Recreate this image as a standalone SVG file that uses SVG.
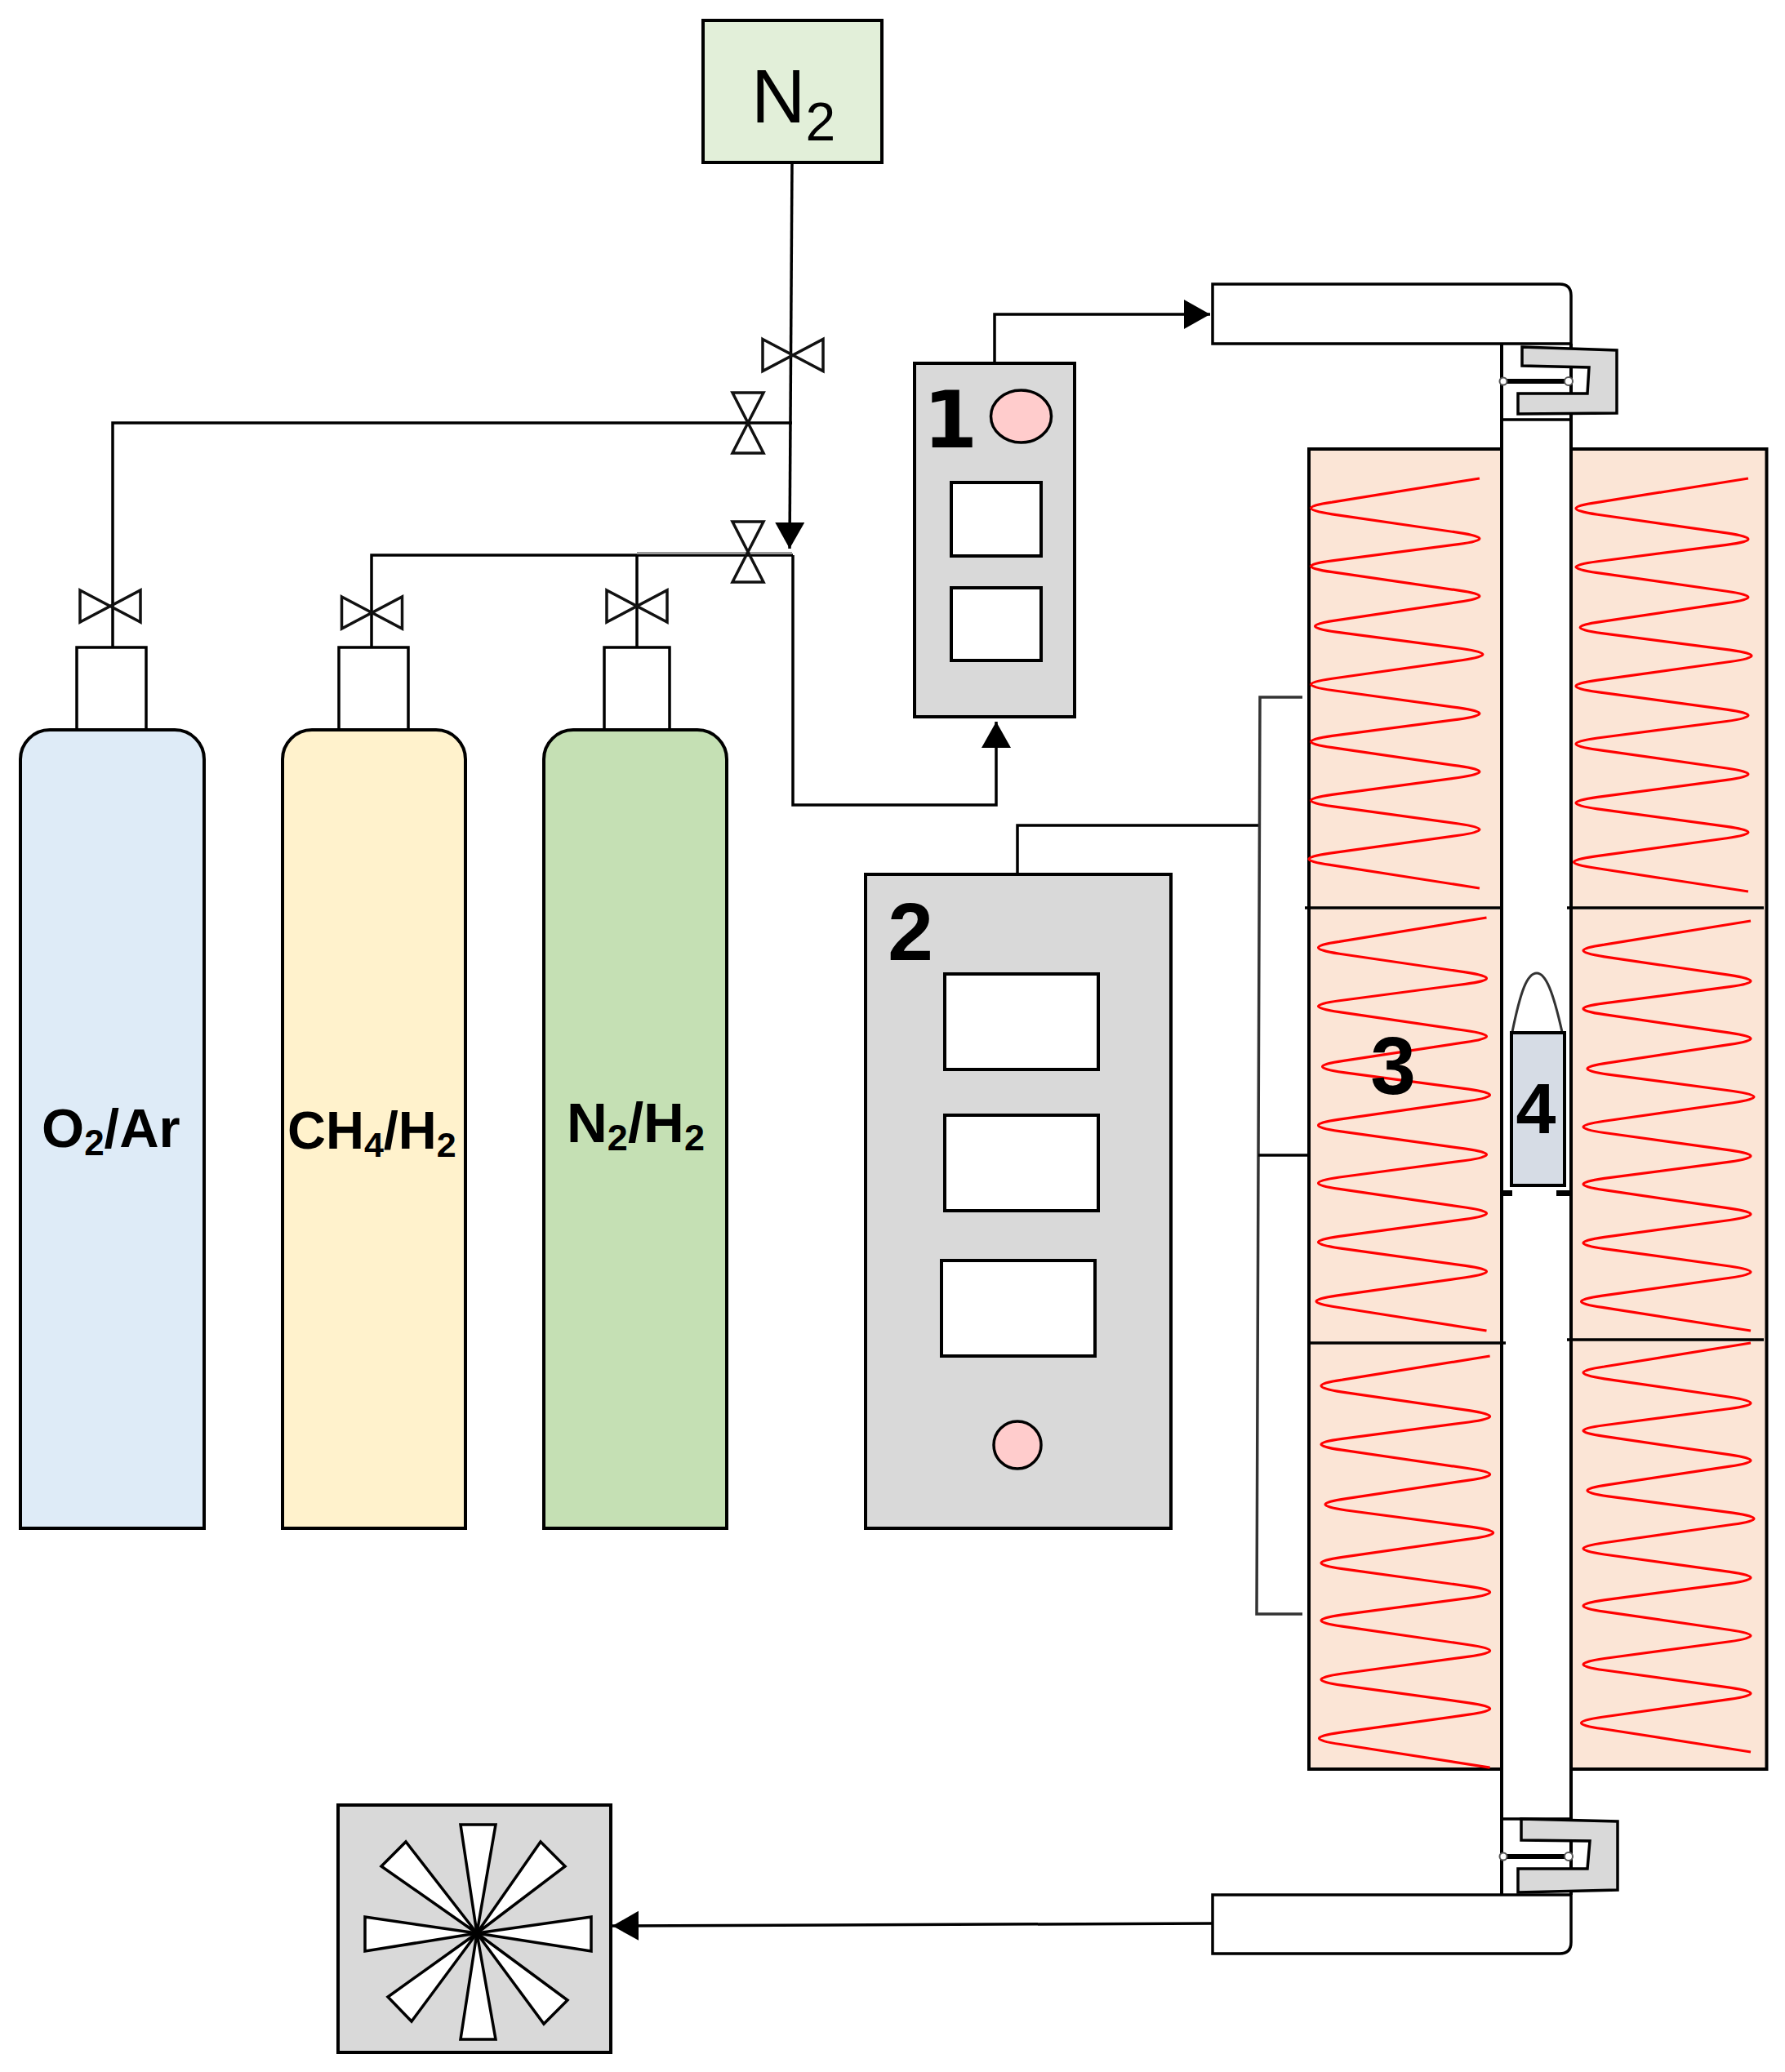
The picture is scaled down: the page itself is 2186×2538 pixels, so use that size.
<svg xmlns="http://www.w3.org/2000/svg" width="2186" height="2538" viewBox="0 0 2186 2538">
<style>
.b{stroke:#000;stroke-width:4}
.t{stroke:#000;stroke-width:3.5;fill:none}
.c{stroke:#000;stroke-width:3.5;fill:none}
.v{stroke:#111;stroke-width:3.5;fill:none}
.w{fill:#fff}
.g{fill:#d9d9d9}
.f{fill:#fbe5d6}
.lab{font-family:"Liberation Sans",Arial,sans-serif;font-weight:700;fill:#000}
.coil{fill:none;stroke:#ff0000;stroke-width:3.2;vector-effect:non-scaling-stroke}
</style>
<defs>
<marker id="ah" markerUnits="userSpaceOnUse" markerWidth="34" markerHeight="38" refX="32" refY="18" orient="auto"><path d="M0 0L32 18L0 36Z" fill="#000"/></marker>
<path id="coilshape" class="coil" d="M412 0L51.500 53Q-51.500 66 51.500 80L360.500 121Q463.500 135 360.500 147L51.500 184Q-51.500 196 51.500 209L360.500 250Q463.500 263 360.500 276L61.500 317Q-41.500 330 61.500 343L368.500 380Q471.500 393 368.500 406L51.500 447Q-51.500 460 51.500 473L360.500 512Q463.500 525 360.500 538L51.500 575Q-51.500 588 51.500 601L360.500 642Q463.500 655 360.500 668L51.500 706Q-51.500 719 51.500 732L360.500 771Q463.500 784 360.500 797L46.500 837Q-56.500 850 46.500 863L412 915"/>
<path id="vh" d="M-37 -19.500L37 19.500L37 -19.500L-37 19.500Z"/>
<path id="vv" d="M-19 -37L19 37L-19 37L19 -37Z"/>
</defs>
<rect width="2186" height="2538" fill="#fff"/>

<g id="connectors">
<path class="c" d="M970 199L967 672" marker-end="url(#ah)"/>
<path class="c" d="M970 518H138V793"/>
<path class="c" d="M971 680H455V793"/>
<path class="c" d="M780 680V793"/>
<path d="M780 677.500H970" stroke="#999" stroke-width="3" fill="none"/>
<path class="c" d="M971 680V986H1220V884" marker-end="url(#ah)"/>
<path class="c" d="M1218 445V385H1482" marker-end="url(#ah)"/>
<path class="c" d="M1485 2356L750 2359" marker-end="url(#ah)"/>
<path class="t" d="M1246 1071V1011H1543"/>
<path d="M1595 854H1543L1539 1977H1595" stroke="#333" stroke-width="3.500" fill="none"/>
<path class="t" d="M1541 1415H1604"/>
</g>

<g id="valves">
<use href="#vh" class="v" x="971" y="435"/>
<use href="#vh" class="v" x="135" y="742.500"/>
<use href="#vh" class="v" x="455.500" y="750.500"/>
<use href="#vh" class="v" x="780" y="742.500"/>
<use href="#vv" class="v" x="916" y="518"/>
<use href="#vv" class="v" x="916" y="676"/>
</g>

<g id="n2-source">
<rect class="b" x="861" y="25" width="219" height="174" fill="#e2efd9"/>
<text x="920" y="150" font-family="Liberation Sans, Arial, sans-serif" font-size="92" fill="#000">N<tspan dy="22" font-size="66">2</tspan></text>
</g>

<g id="cylinder-o2">
<rect class="t" x="94" y="793" width="85" height="101" style="fill:#fff"/>
<path class="b" d="M25 1872V930A36 36 0 0 1 61 894H214A36 36 0 0 1 250 930V1872Z" fill="#deebf7"/>
<text class="lab" x="51" y="1405" font-size="67">O<tspan dy="10" font-size="44">2</tspan><tspan dy="-10">/Ar</tspan></text>
</g>
<g id="cylinder-ch4">
<rect class="t" x="415" y="793" width="85" height="101" style="fill:#fff"/>
<path class="b" d="M346 1872V930A36 36 0 0 1 382 894H534A36 36 0 0 1 570 930V1872Z" fill="#fff2cc"/>
<text class="lab" x="352" y="1407" font-size="65">CH<tspan dy="10" font-size="43">4</tspan><tspan dy="-10">/H</tspan><tspan dy="10" font-size="43">2</tspan></text>
</g>
<g id="cylinder-n2">
<rect class="t" x="740" y="793" width="80" height="101" style="fill:#fff"/>
<path class="b" d="M666 1872V930A36 36 0 0 1 702 894H854A36 36 0 0 1 890 930V1872Z" fill="#c5e0b4"/>
<text class="lab" x="694" y="1399" font-size="69">N<tspan dy="10" font-size="45">2</tspan><tspan dy="-10">/H</tspan><tspan dy="10" font-size="45">2</tspan></text>
</g>

<g id="controller-1">
<rect class="b g" x="1120" y="445" width="196" height="433"/>
<text x="1164" y="548" text-anchor="middle" font-family="DejaVu Sans, sans-serif" font-weight="700" font-size="96" fill="#000">1</text>
<ellipse class="t" cx="1250.500" cy="510" rx="37" ry="32" style="fill:#ffcccc"/>
<rect class="b w" x="1165" y="591" width="110" height="90"/>
<rect class="b w" x="1165" y="720" width="110" height="89"/>
</g>

<g id="controller-2">
<rect class="b g" x="1060" y="1071" width="374" height="801"/>
<text class="lab" x="1115" y="1176" text-anchor="middle" font-size="100">2</text>
<rect class="b w" x="1157" y="1193" width="188" height="117"/>
<rect class="b w" x="1157" y="1366" width="188" height="117"/>
<rect class="b w" x="1153" y="1544" width="188" height="117"/>
<circle class="t" cx="1246" cy="1770" r="29" style="fill:#ffcccc"/>
</g>

<g id="furnace">
<rect class="b f" x="1603" y="550" width="236" height="1617"/>
<rect class="b f" x="1924" y="550" width="239.500" height="1617"/>
<path class="t" d="M1598 1112H1839M1919 1112H2160M1603 1645H1844M1919 1641H2160"/>
<use href="#coilshape" transform="translate(1605.500 586) scale(.501 .5486)"/>
<use href="#coilshape" transform="translate(1930 586) scale(.512 .553)"/>
<use href="#coilshape" transform="translate(1614.500 1124) scale(.5 .553)"/>
<use href="#coilshape" transform="translate(1939 1128) scale(.4976 .5486)"/>
<use href="#coilshape" transform="translate(1618 1661) scale(.5015 .551)"/>
<use href="#coilshape" transform="translate(1939 1645) scale(.4976 .5475)"/>
<text class="lab" x="1706" y="1340" text-anchor="middle" font-size="100">3</text>
</g>

<g id="reactor-tube">
<path class="b" d="M1839 421V2321M1924 421V2321" fill="none"/>
<path class="t" d="M1839 514H1924M1839 2228H1924"/>
<path class="t" d="M1485 348H1910Q1924 348 1924 362V421H1485Z" style="fill:#fff"/>
<path class="t" d="M1485 2321H1924V2379Q1924 2393 1910 2393H1485Z" style="fill:#fff"/>
</g>

<g id="flange-top">
<path class="t" d="M1864 425L1980 429V506L1859 507V482H1944L1946 450L1864 448Z" style="fill:#d9d9d9"/>
<path d="M1844 467H1918" stroke="#000" stroke-width="6"/>
<circle cx="1841" cy="467" r="4.500" fill="#fff" stroke="#555" stroke-width="2"/>
<circle cx="1921" cy="467" r="5" fill="#fff" stroke="#555" stroke-width="2"/>
</g>
<g id="flange-bottom">
<path class="t" d="M1863 2228L1981 2231V2315L1859 2318V2289H1944L1947 2255L1863 2254Z" style="fill:#d9d9d9"/>
<path d="M1844 2274H1918" stroke="#000" stroke-width="6"/>
<circle cx="1841" cy="2274" r="4.500" fill="#fff" stroke="#555" stroke-width="2"/>
<circle cx="1921" cy="2274" r="5" fill="#fff" stroke="#555" stroke-width="2"/>
</g>

<g id="sample-4">
<path d="M1852 1264C1862 1215 1870 1192 1882 1192C1893 1192 1902 1215 1913 1264" fill="#fff" stroke="#333" stroke-width="3"/>
<rect class="b" x="1851" y="1265" width="65" height="187" fill="#d6dce5"/>
<text class="lab" x="1881" y="1388" text-anchor="middle" font-size="88">4</text>
<path d="M1840 1461.500H1852M1906 1461.500H1922" stroke="#000" stroke-width="7"/>
</g>

<g id="exhaust">
<rect class="b g" x="414" y="2211" width="334" height="303"/>
<g class="t" style="fill:#fff">
<path d="M584 2368L564 2235H607Z"/>
<path d="M584 2368L564 2498H607Z"/>
<path d="M584 2368L447 2348V2390Z"/>
<path d="M584 2368L724 2348V2390Z"/>
<path d="M584 2368L497 2256L467 2286Z"/>
<path d="M584 2368L662 2256L692 2286Z"/>
<path d="M584 2368L475 2446L504 2476Z"/>
<path d="M584 2368L695 2450L666 2479Z"/>
</g>
</g>
</svg>
